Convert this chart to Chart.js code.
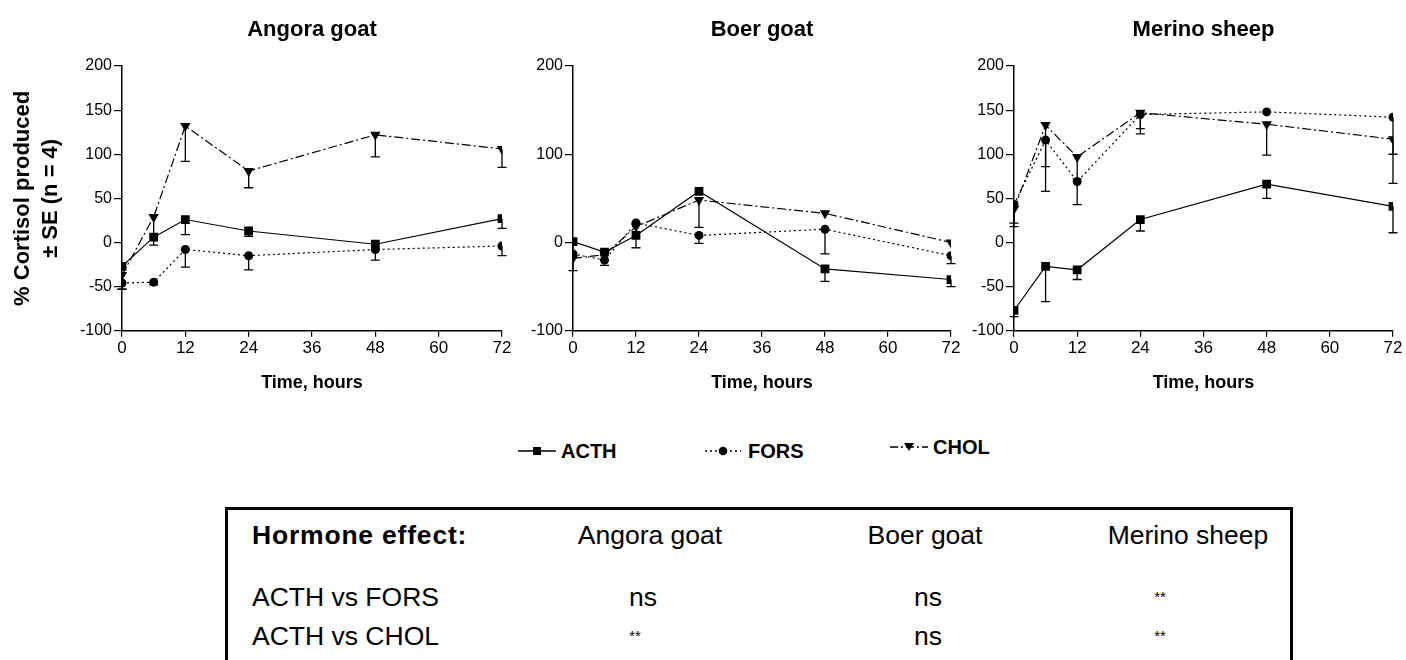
<!DOCTYPE html>
<html>
<head>
<meta charset="utf-8">
<script src="https://cdn.jsdelivr.net/npm/chart.js@4.4.0/dist/chart.umd.min.js"></script>
<style>
  body { margin: 0; background: #fff; width: 1406px; height: 660px; overflow: hidden; position: relative;
         font-family: 'Liberation Sans', Arial, sans-serif; color: #000; }
  .panel { position: absolute; top: 0; height: 400px; }
  .legend { position: absolute; font-weight: bold; font-size: 20px; line-height: 20px; }
  .legend svg { position: absolute; top: 0; }
  .legend span { position: absolute; top: 0; white-space: nowrap; }
  #table { position: absolute; left: 225px; top: 507px; width: 1062px; height: 220px; border: 3px solid #000; }
  #table div { position: absolute; white-space: nowrap; font-size: 26.5px; line-height: 30px; }
  #table .c { transform: translateX(-50%); }
  #table .stars { font-size: 15px; }
</style>
</head>
<body>
<div class="panel" style="left:0;width:525px"><canvas id="p0"></canvas></div>
<div class="panel" style="left:515px;width:460px"><canvas id="p1"></canvas></div>
<div class="panel" style="left:955px;width:451px"><canvas id="p2"></canvas></div>

<div class="legend" style="left:518px;top:441px">
  <svg width="40" height="20"><line x1="0" y1="10" x2="38" y2="10" stroke="#000" stroke-width="1.3"/><rect x="15" y="6" width="8" height="8" fill="#000"/></svg>
  <span style="left:43px">ACTH</span>
</div>
<div class="legend" style="left:705px;top:441px">
  <svg width="40" height="20"><line x1="0" y1="10" x2="36" y2="10" stroke="#000" stroke-width="1.3" stroke-dasharray="2,3"/><circle cx="18" cy="10" r="4.3" fill="#000"/></svg>
  <span style="left:43px">FORS</span>
</div>
<div class="legend" style="left:890px;top:437px">
  <svg width="40" height="20"><line x1="0" y1="10" x2="38" y2="10" stroke="#000" stroke-width="1.3" stroke-dasharray="8,3,2,3"/><polygon points="14,6 24,6 19,14" fill="#000"/></svg>
  <span style="left:43px">CHOL</span>
</div>

<div id="table"></div>

<script>
const hours = [0, 6, 12, 24, 48, 72];
const panelTitles = ['Angora goat', 'Boer goat', 'Merino sheep'];
const seriesNames = ['ACTH', 'FORS', 'CHOL'];

// Angora goat
const angoraActh = [-27, 6, 26, 13, -2, 27];
const angoraActhSE = [0, 9, 17, 6, 0, 11];
const angoraFors = [-46, -45, -8, -15, -8, -4];
const angoraForsSE = [7, 3, 20, 16, 12, 11];
const angoraChol = [-37, 29, 132, 81, 122, 106];
const angoraCholSE = [16, 22, 40, 19, 25, 21];

// Boer goat
const boerActh = [1, -11, 8, 58, -30, -42];
const boerActhSE = [33, 9, 14, 0, 14, 8];
const boerFors = [-13, -20, 22, 8, 15, -15];
const boerForsSE = [0, 6, 0, 9, 28, 9];
const boerChol = [-18, -14, 18, 48, 33, 0];
const boerCholSE = [0, 0, 0, 31, 0, 0];

// Merino sheep
const merinoActh = [-77, -27, -31, 26, 66, 41];
const merinoActhSE = [7, 40, 11, 13, 16, 30];
const merinoFors = [43, 116, 69, 145, 148, 142];
const merinoForsSE = [21, 58, 26, 22, 0, 42];
const merinoChol = [38, 133, 97, 147, 134, 117];
const merinoCholSE = [20, 47, 25, 18, 35, 50];

const yStep = [50, 100, 50];

// hormone effect table
const tableCols = ['Angora goat', 'Boer goat', 'Merino sheep'];
const tableRows = ['ACTH vs FORS', 'ACTH vs CHOL'];
const tableCells = [['ns', 'ns', '**'], ['**', 'ns', '**']];

Chart.defaults.font.family = "'Liberation Sans', Arial, sans-serif";
Chart.defaults.color = '#000';

const panels = [
  [[angoraActh, angoraActhSE], [angoraFors, angoraForsSE], [angoraChol, angoraCholSE]],
  [[boerActh, boerActhSE], [boerFors, boerForsSE], [boerChol, boerCholSE]],
  [[merinoActh, merinoActhSE], [merinoFors, merinoForsSE], [merinoChol, merinoCholSE]]
];

const styles = [
  { pointStyle: 'rect', pointRadius: 6.2, borderDash: [], pointRotation: 0 },
  { pointStyle: 'circle', pointRadius: 4.5, borderDash: [2, 3], pointRotation: 0 },
  { pointStyle: 'triangle', pointRadius: 6, borderDash: [9, 3, 2, 3], pointRotation: 180 }
];

// one-sided SE bars with a cap
const errorBars = {
  id: 'errorBars',
  afterDatasetsDraw(chart) {
    const { ctx, scales: { x, y } } = chart;
    ctx.save();
    ctx.strokeStyle = '#000';
    ctx.lineWidth = 1.3;
    chart.data.datasets.forEach(ds => {
      ds.data.forEach(p => {
        if (!p.se) return;
        const px = x.getPixelForValue(p.x);
        const y0 = y.getPixelForValue(p.y);
        const y1 = y.getPixelForValue(p.y - p.se);
        ctx.beginPath();
        ctx.moveTo(px, y0);
        ctx.lineTo(px, y1);
        ctx.moveTo(px - 4.5, y1);
        ctx.lineTo(px + 4.5, y1);
        ctx.stroke();
      });
    });
    ctx.restore();
  }
};

// canvas width, y axis box width, right padding
const geom = [[525, 122, 23], [460, 58, 24], [451, 59, 13]];

panels.forEach((series, k) => {
  const [w, yw, pr] = geom[k];
  const canvas = document.getElementById('p' + k);
  canvas.width = w;
  canvas.height = 400;
  canvas.style.width = w + 'px';
  canvas.style.height = '400px';

  new Chart(canvas, {
    type: 'line',
    data: {
      datasets: series.map(([vals, se], i) => ({
        label: seriesNames[i],
        data: hours.map((h, j) => ({ x: h, y: vals[j], se: se[j] })),
        borderColor: '#000',
        backgroundColor: '#000',
        borderWidth: 1.2,
        borderDash: styles[i].borderDash,
        pointStyle: styles[i].pointStyle,
        pointRadius: styles[i].pointRadius,
        pointRotation: styles[i].pointRotation,
        pointBorderWidth: 0,
        tension: 0
      }))
    },
    options: {
      responsive: false,
      animation: false,
      layout: { padding: { top: 17, right: pr, bottom: 0, left: 0 } },
      plugins: {
        legend: { display: false },
        tooltip: { enabled: false },
        title: {
          display: true,
          fullSize: false,
          text: panelTitles[k],
          font: { size: 22, weight: 'bold' },
          lineHeight: 1.2,
          padding: { top: 0, bottom: 22.6 }
        }
      },
      scales: {
        x: {
          type: 'linear',
          min: 0, max: 72,
          afterFit(s) { s.height = 69.3; },
          ticks: { stepSize: 12, font: { size: 17 }, padding: 1, color: '#000' },
          grid: { drawOnChartArea: false, drawTicks: true, tickLength: 6, color: '#000', lineWidth: 1.2 },
          border: { display: true, color: '#000', width: 1.5 },
          title: { display: true, text: 'Time, hours', font: { size: 18, weight: 'bold' }, padding: { top: 0, bottom: 6 } }
        },
        y: {
          min: -100, max: 200,
          afterFit(s) { s.width = yw; },
          ticks: { stepSize: yStep[k], font: { size: 16 }, padding: 2, color: '#000' },
          grid: { drawOnChartArea: false, drawTicks: true, tickLength: 8, color: '#000', lineWidth: 1.2 },
          border: { display: true, color: '#000', width: 1.5 },
          title: {
            display: k === 0,
            text: ['% Cortisol produced', '\u00b1 SE (n = 4)'],
            font: { size: 22, weight: 'bold', lineHeight: 1.27 },
            padding: { top: 9, bottom: 0 }
          }
        }
      }
    },
    plugins: [errorBars]
  });
});

// table text
const table = document.getElementById('table');
function cell(text, left, top, cls, extra) {
  const d = document.createElement('div');
  d.textContent = text;
  d.className = cls || '';
  d.style.left = (left - 228) + 'px';
  d.style.top = (top - 510 - 15) + 'px';
  if (extra) Object.assign(d.style, extra);
  table.appendChild(d);
}
const colX = [650, 925, 1188];
const cellX = [[643, 928, 1160], [635, 928, 1160]];
const rowY = [597, 636];
cell('Hormone effect:', 252, 535, '', { fontWeight: 'bold', letterSpacing: '0.8px' });
tableCols.forEach((c, i) => cell(c, colX[i], 535, 'c'));
tableRows.forEach((r, i) => {
  cell(r, 252, rowY[i]);
  tableCells[i].forEach((v, j) => cell(v, cellX[i][j], rowY[i], v === '**' ? 'c stars' : 'c'));
});
</script>
</body>
</html>
